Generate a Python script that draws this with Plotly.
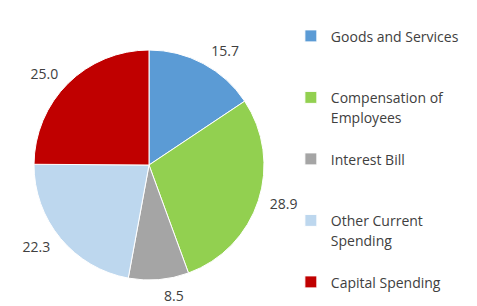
import plotly.graph_objects as go

categories = ["Goods and Services", "Compensation of<br>Employees", "Interest Bill",
              "Other Current<br>Spending", "Capital Spending"]
values = [15.7, 28.9, 8.5, 22.3, 25.0]
value_labels = ["15.7", "28.9", "8.5", "22.3", "25.0"]
colors = ["#5B9BD5", "#92D050", "#A5A5A5", "#BDD7EE", "#C00000"]

# pad legend entries so each occupies three lines (as in the reference)
legend_names = []
for i, c in enumerate(categories):
    n = c.count("<br>") + 1
    txt = "<br>".join('<span style="font-size:14px">%s</span>' % p for p in c.split("<br>"))
    if i < len(categories) - 1:
        txt += "<br> " * (3 - n)
    legend_names.append(txt)

W, H = 477, 306
cx, cy, r = 141, 157, 115
lr = r + 7


def dom(rad):
    return dict(x=[(cx - rad) / W, (cx + rad) / W],
                y=[(H - cy - rad) / H, (H - cy + rad) / H])


fig = go.Figure()
fig.add_trace(go.Pie(
    labels=legend_names,
    values=values,
    textinfo="none",
    sort=False,
    direction="clockwise",
    rotation=0,
    marker=dict(colors=colors, line=dict(color="white", width=1)),
    domain=dom(r),
    hoverinfo="skip",
))
# invisible companion pie carrying the value labels a little further out
fig.add_trace(go.Pie(
    labels=legend_names,
    values=values,
    text=value_labels,
    textinfo="text",
    textposition="outside",
    sort=False,
    direction="clockwise",
    rotation=0,
    showlegend=False,
    marker=dict(colors=["rgba(0,0,0,0)"] * len(values),
                line=dict(width=0)),
    textfont=dict(family="Open Sans", size=14, color="#404040"),
    domain=dom(lr),
    hoverinfo="skip",
))

fig.update_layout(
    width=W, height=H,
    margin=dict(l=0, r=0, t=0, b=0),
    paper_bgcolor="white",
    plot_bgcolor="white",
    showlegend=True,
    legend=dict(x=0.593, y=0.962, xanchor="left", yanchor="top",
                valign="top", traceorder="normal",
                font=dict(family="Open Sans", size=15, color="#404040"),
                itemwidth=30, bgcolor="rgba(0,0,0,0)"),
)

fig.write_html("out.html")
